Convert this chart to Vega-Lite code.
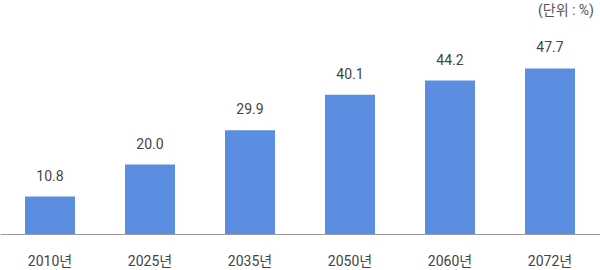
{
  "$schema": "https://vega.github.io/schema/vega-lite/v6.json",
  "width": 600,
  "height": 210,
  "padding": {"top": 4, "left": 0, "right": 0, "bottom": 0},
  "background": "white",
  "title": {
    "text": "(단위 : %)",
    "anchor": "end",
    "fontSize": 14,
    "fontWeight": "normal",
    "color": "#555555",
    "font": "Roboto, Noto Sans CJK KR",
    "offset": 6,
    "dx": -6
  },
  "data": {
    "values": [
      {"year": "2010년", "value": 10.8},
      {"year": "2025년", "value": 20.0},
      {"year": "2035년", "value": 29.9},
      {"year": "2050년", "value": 40.1},
      {"year": "2060년", "value": 44.2},
      {"year": "2072년", "value": 47.7}
    ]
  },
  "config": {
    "view": {"stroke": null},
    "font": "Roboto, Noto Sans CJK KR"
  },
  "encoding": {
    "x": {
      "field": "year",
      "type": "nominal",
      "sort": null,
      "scale": {"paddingInner": 0.5, "paddingOuter": 0.25},
      "axis": {
        "title": null,
        "labelAngle": 0,
        "ticks": false,
        "domainColor": "#9a9a9a",
        "domainWidth": 1,
        "labelFontSize": 14,
        "labelColor": "#444444",
        "labelPadding": 20,
        "labelFont": "Roboto, Noto Sans CJK KR"
      }
    },
    "y": {
      "field": "value",
      "type": "quantitative",
      "scale": {"domain": [0, 60.5]},
      "axis": null
    }
  },
  "layer": [
    {"mark": {"type": "bar", "color": "#5b8de0"}},
    {
      "mark": {"type": "text", "baseline": "bottom", "dy": -13, "fontSize": 14, "color": "#444444", "font": "Roboto, Noto Sans CJK KR"},
      "encoding": {"text": {"field": "value", "type": "quantitative", "format": ".1f"}}
    }
  ]
}
